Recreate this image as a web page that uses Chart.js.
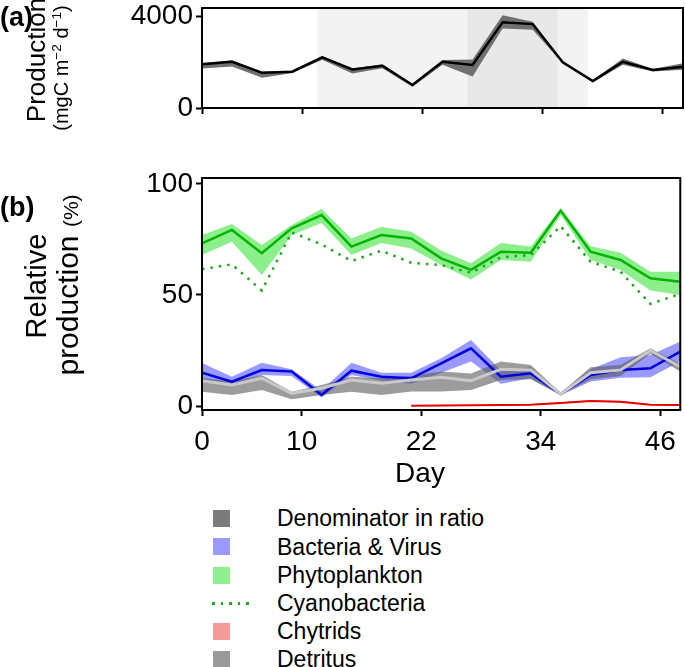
<!DOCTYPE html>
<html><head><meta charset="utf-8">
<script src="https://cdn.jsdelivr.net/npm/chart.js@4.4.1/dist/chart.umd.min.js"></script>
<style>
html,body{margin:0;padding:0;background:#fff;}
body{width:685px;height:667px;position:relative;overflow:hidden;font-family:"Liberation Sans",Arial,sans-serif;color:#000;}
.rot{position:absolute;transform:translate(-50%,-50%) rotate(-90deg);white-space:nowrap;line-height:1;}
.rot sup{font-size:0.68em;vertical-align:0.55em;line-height:0;}
.tag{position:absolute;left:0;font-weight:bold;font-size:27px;line-height:1;}
#c1{position:absolute;left:0;top:-12px;}
#c2{position:absolute;left:0;top:130px;}
#day{position:absolute;left:420px;top:459px;transform:translateX(-50%);font-size:28px;line-height:1;white-space:nowrap;}
.lg{position:absolute;left:0;width:685px;height:28px;font-size:23px;line-height:28px;}
.lg .box{position:absolute;left:213px;top:5.5px;width:17px;height:17px;}
.lg .dots{position:absolute;left:212px;top:13px;width:40px;height:2.5px;background:repeating-linear-gradient(to right,#22aa22 0,#22aa22 2.5px,transparent 2.5px,transparent 8.5px);}
.lg .txt{position:absolute;left:277px;top:0;white-space:nowrap;}
</style></head><body>
<canvas id="c1" width="685" height="142"></canvas>
<canvas id="c2" width="685" height="370"></canvas>
<div class="rot" style="left:36px;top:60px;font-size:26px">Production</div>
<div class="rot" style="left:61px;top:68px;font-size:20px">(mgC m<sup>−2</sup> d<sup>−1</sup>)</div>
<div class="rot" style="left:36px;top:286px;font-size:29px">Relative</div>
<div class="rot" style="left:68px;top:285px;font-size:30px">production <span style="font-size:21px">(%)</span></div>
<div class="tag" style="top:4px">(a)</div>
<div class="tag" style="top:194px">(b)</div>
<div id="day">Day</div>
<div id="legend"></div>
<script>
// ---- data ----
const days = [0, 3, 6, 9, 12, 15, 18, 21, 24, 27, 30, 33, 36, 39, 42, 45, 48];
const xTicks = [0, 10, 22, 34, 46];
const prodTicks = [0, 4000];
const relTicks = [0, 50, 100];

const production   = [1900, 2010, 1530, 1580, 2200, 1680, 1840, 1000, 2010, 1870, 3725, 3650, 1985, 1170, 2010, 1650, 1800];
const productionHi = [1960, 2080, 1580, 1620, 2260, 1720, 1900, 1060, 2090, 2110, 4030, 3750, 2010, 1220, 2150, 1700, 1950];
const productionLo = [1720, 1810, 1320, 1520, 2100, 1500, 1730,  920, 1880, 1370, 3460, 3400, 1950, 1110, 1880, 1590, 1660];

const phyto   = [73.3, 79.3, 68.8, 80.0, 86.0, 71.8, 77.0, 75.5, 66.5, 61.3, 69.5, 69.0, 88.0, 69.5, 65.8, 57.5, 56.0];
const phytoHi = [77.0, 82.0, 72.5, 81.5, 88.7, 75.5, 80.7, 78.5, 70.0, 64.3, 73.4, 71.8, 89.0, 72.0, 69.0, 60.5, 60.5];
const phytoLo = [68.0, 74.0, 59.0, 77.0, 82.4, 68.0, 73.4, 71.0, 63.5, 57.0, 65.8, 65.0, 86.0, 65.8, 61.3, 52.0, 50.0];
const cyano   = [61.6, 63.8, 52.0, 78.2, 72.8, 65.3, 70.0, 64.5, 63.5, 60.0, 67.0, 68.0, 81.0, 65.0, 60.5, 46.0, 50.5];

const bact   = [15.0, 11.0, 16.2, 15.5, 5.0, 15.9, 13.2, 12.5, 19.2, 26.0, 13.2, 14.7, 5.4, 14.0, 16.2, 17.0, 24.5];
const bactHi = [19.4, 13.2, 19.5, 16.5, 7.0, 19.5, 15.0, 15.0, 21.5, 29.7, 16.0, 17.5, 6.0, 16.5, 22.0, 23.0, 29.0];
const bactLo = [11.0,  9.5, 14.0, 13.5, 3.8, 14.0, 11.5, 10.0, 15.0, 20.0, 10.0, 12.5, 4.8, 11.0, 12.7, 13.0, 20.0];

const detritus   = [11.4, 9.5, 12.5, 5.7, 8.0, 11.7, 10.2, 11.7, 12.9, 11.4, 16.5, 16.2, 5.4, 15.0, 16.2, 25.0, 17.7];
const detritusHi = [12.6, 11.0, 14.0, 6.4, 9.5, 13.2, 12.5, 13.5, 15.5, 14.6, 20.0, 18.5, 6.0, 17.5, 18.5, 26.0, 19.0];
const detritusLo = [ 6.4, 5.0, 7.2, 3.0, 5.0, 6.4, 5.0, 6.5, 6.5, 7.2, 11.7, 12.0, 4.8, 12.0, 13.5, 23.5, 15.5];

const chytrids   = [null, null, null, null, null, null, null, 0.1, 0.2, 0.3, 0.4, 0.6, 1.4, 2.3, 1.9, 0.6, 0.5];
const chytridsHi = [null, null, null, null, null, null, null, 0.3, 0.4, 0.5, 0.6, 0.9, 1.8, 2.7, 2.3, 0.9, 0.8];
const chytridsLo = [null, null, null, null, null, null, null, 0.0, 0.1, 0.1, 0.2, 0.4, 1.1, 1.9, 1.6, 0.4, 0.3];

const shadeLight = [11.5, 38.5];
const shadeDark  = [26.5, 35.5];

const legendLabels = ['Denominator in ratio', 'Bacteria & Virus', 'Phytoplankton', 'Cyanobacteria', 'Chytrids', 'Detritus'];
const legendColors = ['#7b7b7b', '#9999ff', '#8ef08e', null, '#f59a9a', '#9a9a9a'];

// ---- helpers ----
const FONT = '"Liberation Sans", Arial, sans-serif';
const pts = arr => days.map((d, i) => ({x: d, y: arr[i]}));

const frame = {
  id: 'frame',
  afterDatasetsDraw(c) {
    const {ctx, chartArea: a} = c;
    ctx.save();
    ctx.strokeStyle = '#000';
    ctx.lineWidth = 2;
    ctx.strokeRect(a.left, a.top, a.right - a.left, a.bottom - a.top);
    ctx.restore();
  }
};
const shading = {
  id: 'shading',
  beforeDatasetsDraw(c) {
    const {ctx, chartArea: a, scales: {x}} = c;
    ctx.save();
    ctx.fillStyle = '#f3f3f3';
    ctx.fillRect(x.getPixelForValue(shadeLight[0]), a.top, x.getPixelForValue(shadeLight[1]) - x.getPixelForValue(shadeLight[0]), a.bottom - a.top);
    ctx.fillStyle = '#e8e8e8';
    ctx.fillRect(x.getPixelForValue(shadeDark[0]), a.top, x.getPixelForValue(shadeDark[1]) - x.getPixelForValue(shadeDark[0]), a.bottom - a.top);
    ctx.restore();
  }
};

function gridOpts() {
  return {drawOnChartArea: false, drawTicks: true, tickLength: 6, tickColor: '#000', tickWidth: 2, color: '#000'};
}
function yScale(min, max, tickVals) {
  return {
    type: 'linear', min, max,
    afterFit(s) { s.width = 202; },
    afterBuildTicks(s) { s.ticks = tickVals.map(v => ({value: v})); },
    ticks: {font: {family: FONT, size: 28}, color: '#000', padding: 3, callback: v => String(v)},
    grid: gridOpts(),
    border: {display: true, color: '#000', width: 2}
  };
}
function xScale(showLabels, height) {
  return {
    type: 'linear', min: 0, max: 48,
    afterFit(s) { s.height = height; },
    afterBuildTicks(s) { s.ticks = xTicks.map(v => ({value: v})); },
    ticks: {display: showLabels, font: {family: FONT, size: 28}, color: '#000', padding: 9, autoSkip: false, maxRotation: 0, callback: v => String(v)},
    grid: gridOpts(),
    border: {display: true, color: '#000', width: 2}
  };
}
const band = (data, color, order) => ({data: pts(data), borderWidth: 0, pointRadius: 0, fill: '-1', backgroundColor: color, order, spanGaps: false});
const base = (data, order) => ({data: pts(data), borderWidth: 0, pointRadius: 0, fill: false, order, spanGaps: false});
const line = (data, color, width, order, dash) => ({data: pts(data), borderColor: color, borderWidth: width, pointRadius: 0, fill: false, order, borderDash: dash || [], spanGaps: false});

const common = {
  responsive: false, animation: false, devicePixelRatio: 1, events: [],
  plugins: {legend: {display: false}, tooltip: {enabled: false}},
  elements: {line: {tension: 0, borderCapStyle: 'butt', borderJoinStyle: 'miter'}}
};

// ---- chart (a) ----  (canvas top is -12px, so plot spans page y 8..108)
new Chart(document.getElementById('c1'), {
  type: 'line',
  data: {datasets: [
    base(productionLo, 3),
    band(productionHi, '#707070', 3),
    line(production, '#000', 2.5, 1)
  ]},
  options: Object.assign({}, common, {
    layout: {padding: {top: 20, right: 2, left: 0, bottom: 0}},
    scales: {x: xScale(false, 22), y: yScale(0, 4350, prodTicks)}
  }),
  plugins: [shading, frame]
});

// ---- chart (b) ----  (canvas top 130px, plot spans page y 178..410)
new Chart(document.getElementById('c2'), {
  type: 'line',
  data: {datasets: [
    base(phytoLo, 10),
    band(phytoHi, 'rgba(0,220,0,0.45)', 10),
    line(cyano, '#1fa51f', 2.5, 9, [2.5, 6]),
    line(phyto, '#00b400', 2.5, 8),
    base(bactLo, 7),
    band(bactHi, 'rgba(0,0,255,0.4)', 7),
    base(detritusLo, 6),
    band(detritusHi, 'rgba(90,90,90,0.6)', 6),
    line(bact, '#0000e0', 2.5, 5),
    line(detritus, '#c8c8c8', 3, 4),
    base(chytridsLo, 3),
    band(chytridsHi, 'rgba(255,80,80,0.45)', 3),
    line(chytrids, '#e60000', 2, 2)
  ]},
  options: Object.assign({}, common, {
    layout: {padding: {top: 48, right: 2, left: 0, bottom: 0}},
    scales: {x: xScale(true, 90), y: yScale(-1.8, 102.7, relTicks)}
  }),
  plugins: [frame]
});

// ---- legend ----
const lg = document.getElementById('legend');
const rowCenters = [518, 546.5, 575, 603, 631, 659];
legendLabels.forEach((t, i) => {
  const row = document.createElement('div');
  row.className = 'lg';
  row.style.top = (rowCenters[i] - 14) + 'px';
  const mark = document.createElement('div');
  if (legendColors[i]) { mark.className = 'box'; mark.style.background = legendColors[i]; }
  else { mark.className = 'dots'; }
  const txt = document.createElement('div');
  txt.className = 'txt';
  txt.textContent = t;
  row.appendChild(mark);
  row.appendChild(txt);
  lg.appendChild(row);
});
</script>
</body></html>
